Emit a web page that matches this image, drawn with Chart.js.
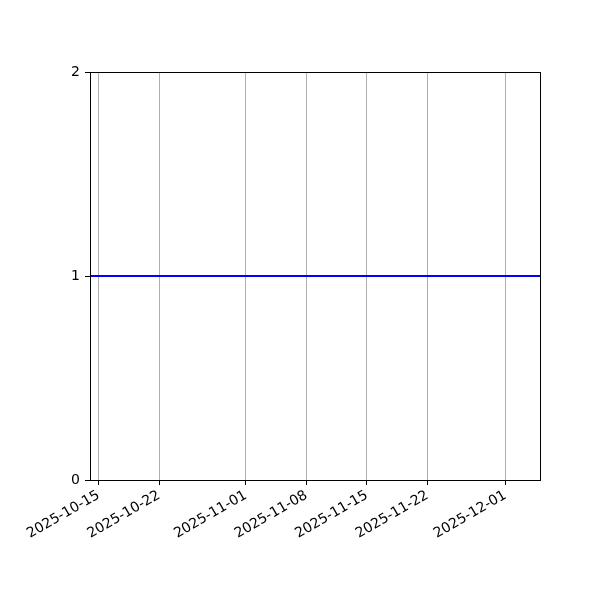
<!DOCTYPE html>
<html>
<head>
<meta charset="utf-8">
<script src="https://cdn.jsdelivr.net/npm/chart.js@4"></script>
<style>
  html, body { margin: 0; padding: 0; background: #fff; }
  #wrap { width: 600px; height: 600px; }
</style>
</head>
<body>
<div id="wrap"><canvas id="chart" width="600" height="600"></canvas></div>
<script>
// chart data
const startDate = '2025-10-14';
const endDate = '2025-12-05';
const lineDates = ['2025-10-14', '2025-12-05'];
const lineValues = [1, 1];
const xTickDates = ['2025-10-15', '2025-10-22', '2025-11-01', '2025-11-08', '2025-11-15', '2025-11-22', '2025-12-01'];
const yTicks = [0, 1, 2];

const DAY = 86400000;
const t0 = Date.parse(startDate + 'T00:00:00Z');
function dayNum(s) {
    return (Date.parse(s + 'T00:00:00Z') - t0) / DAY;
}

// full box around plot area, like matplotlib spines
const frame = {
    id: 'frame',
    afterDraw(chart) {
        const a = chart.chartArea;
        const ctx = chart.ctx;
        ctx.save();
        ctx.strokeStyle = '#000';
        ctx.lineWidth = 1;
        ctx.strokeRect(a.left + 0.5, a.top + 0.5, a.right - a.left, a.bottom - a.top);
        ctx.restore();
    }
};

const ctx = document.getElementById('chart').getContext('2d');
new Chart(ctx, {
    type: 'line',
    data: {
        datasets: [{
            data: lineDates.map((d, i) => ({ x: dayNum(d), y: lineValues[i] })),
            borderColor: '#0000ff',
            borderWidth: 2,
            pointRadius: 0,
            tension: 0,
            fill: false
        }]
    },
    options: {
        responsive: false,
        animation: false,
        layout: { padding: { left: 0, right: 60, top: 72, bottom: 0 } },
        plugins: {
            legend: { display: false },
            tooltip: { enabled: false }
        },
        scales: {
            x: {
                type: 'linear',
                min: dayNum(startDate),
                max: dayNum(endDate),
                afterBuildTicks(axis) {
                    axis.ticks = xTickDates.map(d => ({ value: dayNum(d) }));
                },
                afterFit(axis) { axis.height = 120; },
                ticks: {
                    autoSkip: false,
                    minRotation: 30,
                    maxRotation: 30,
                    padding: 2,
                    color: '#000',
                    font: { family: 'DejaVu Sans', size: 14 },
                    callback: function (val, idx) { return xTickDates[idx]; }
                },
                grid: {
                    color: '#b0b0b0',
                    lineWidth: 1,
                    tickColor: '#000',
                    tickLength: 5,
                    drawOnChartArea: true
                },
                border: { display: true, color: '#000', width: 1 }
            },
            y: {
                min: 0,
                max: 2,
                afterBuildTicks(axis) {
                    axis.ticks = yTicks.map(v => ({ value: v }));
                },
                afterFit(axis) { axis.width = 90; },
                ticks: {
                    padding: 5,
                    color: '#000',
                    font: { family: 'DejaVu Sans', size: 14 }
                },
                grid: {
                    drawOnChartArea: false,
                    tickColor: '#000',
                    tickLength: 5
                },
                border: { display: true, color: '#000', width: 1 }
            }
        }
    },
    plugins: [frame]
});
</script>
</body>
</html>
